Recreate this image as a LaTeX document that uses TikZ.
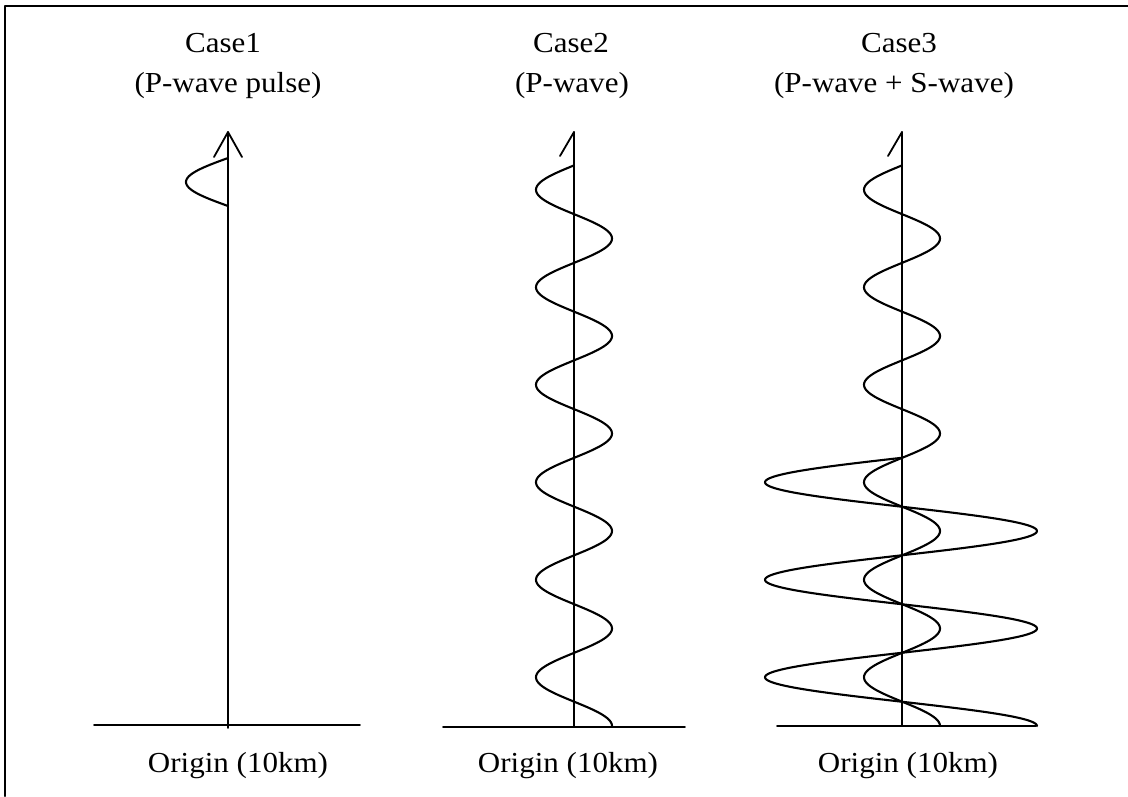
\documentclass[tikz,border=0pt]{standalone}
\usepackage{fontspec}
\setmainfont{Liberation Serif}
\newfontfamily\labelfont[FakeStretch=1.07]{Liberation Serif}
\begin{document}
\begin{tikzpicture}[x=1pt,y=-1pt,
  line cap=round, line join=round,
  frameline/.style={line width=2pt},
  axisline/.style={line width=1.8pt},
  waveline/.style={line width=2.1pt},
  label/.style={inner sep=0pt, anchor=base, font=\labelfont\fontsize{29}{34}\selectfont}]
\useasboundingbox (0,0) rectangle (1128,796);

% frame (top and left edges)
\coordinate (fTL) at (5,6);
\coordinate (fTR) at (1128,6);
\coordinate (fBL) at (5,796);
\draw[frameline] (fTR) -- (fTL) -- (fBL);

% titles
\node[label] (t1) at (223,52) {Case1};
\node[label] (s1) at (228,92) {(P-wave pulse)};
\node[label] (t2) at (571,52) {Case2};
\node[label] (s2) at (572,92) {(P-wave)};
\node[label] (t3) at (899,52) {Case3};
\node[label] (s3) at (894,92) {(P-wave + S-wave)};
\node[label] (o1) at (238,772) {Origin (10km)};
\node[label] (o2) at (568,772) {Origin (10km)};
\node[label] (o3) at (908,772) {Origin (10km)};

% phase rate of the waves: 360 degrees per 97.5 units of depth
\def\wk{3.6923}

% ---- Case 1 ----
\coordinate (g1L) at (94,725);
\coordinate (g1R) at (360,725);
\coordinate (a1b) at (228,728);
\coordinate (a1t) at (228,132);
\coordinate (h1l) at (214,157);
\coordinate (h1r) at (242,157);
\draw[axisline] (g1L) -- (g1R);
\draw[axisline] (a1b) -- (a1t);
\draw[axisline] (h1l) -- (a1t) -- (h1r);
\draw[waveline] plot[domain=158:206, samples=60, smooth]
  ({228-42*sin(3.75*(\x-158))}, \x);

% ---- Case 2 ----
\coordinate (g2L) at (443,727);
\coordinate (g2R) at (685,727);
\coordinate (a2b) at (574,727);
\coordinate (a2t) at (574,132);
\coordinate (h2l) at (560,156);
\draw[axisline] (g2L) -- (g2R);
\draw[axisline] (a2b) -- (a2t);
\draw[axisline] (h2l) -- (a2t);
\draw[waveline] plot[domain=165.4:726, samples=400, smooth]
  ({574+38*cos(\wk*(726-\x))}, \x);

% ---- Case 3 ----
\coordinate (g3L) at (777,726);
\coordinate (g3R) at (1036,726);
\coordinate (a3b) at (902,726);
\coordinate (a3t) at (902,132);
\coordinate (h3l) at (888,156);
\draw[axisline] (g3L) -- (g3R);
\draw[axisline] (a3b) -- (a3t);
\draw[axisline] (h3l) -- (a3t);
% P-wave
\draw[waveline] plot[domain=165.4:726, samples=400, smooth]
  ({902+38*cos(\wk*(726-\x))}, \x);
% S-wave
\draw[waveline] plot[domain=457.9:726, samples=300, smooth]
  ({901+136*cos(\wk*(726-\x))}, \x);
\end{tikzpicture}
\end{document}
